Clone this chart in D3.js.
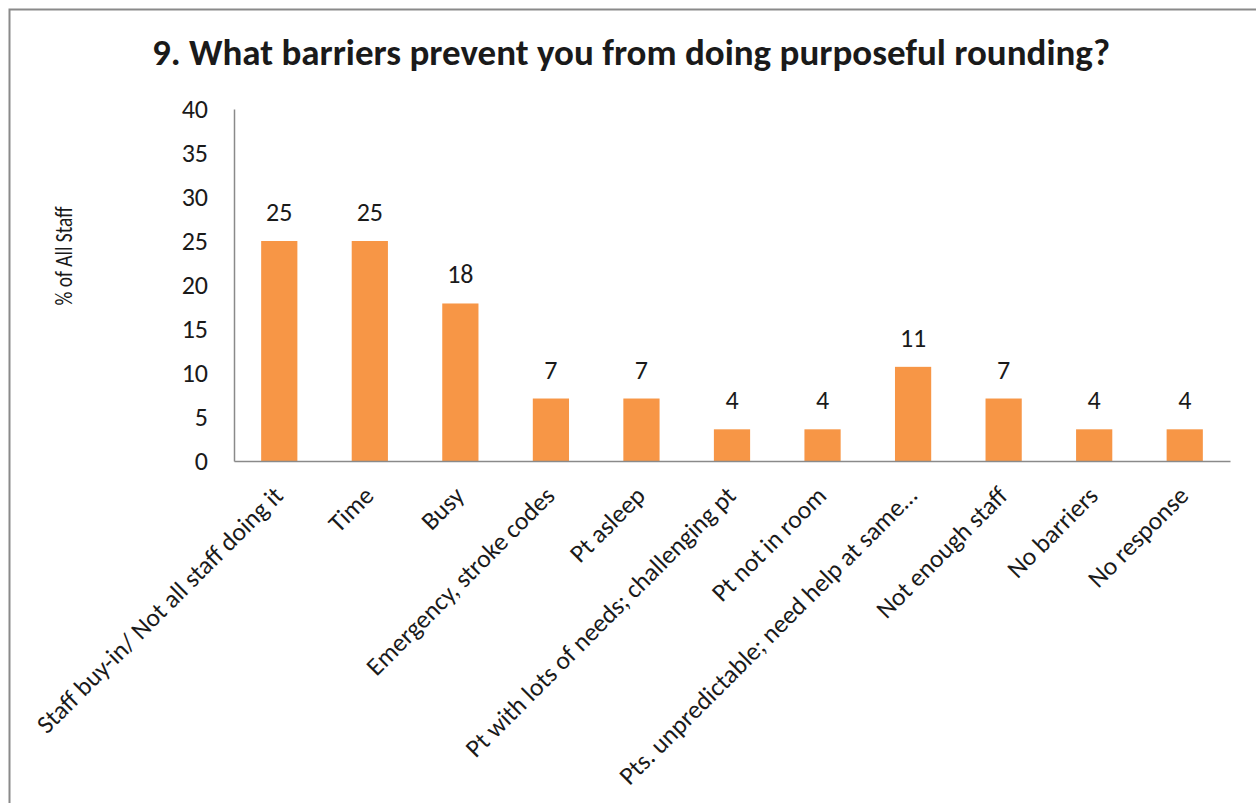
<!DOCTYPE html>
<html>
<head>
<meta charset="utf-8">
<script src="https://cdn.jsdelivr.net/npm/d3@7"></script>
<style>
    body { margin: 0; background: #ffffff; }
    text { font-family: Carlito, Lato, "Open Sans", sans-serif; fill: #1a1a1a; }
    .title { font-weight: bold; font-size: 37px; }
    .tick text, .valueLabel { font-size: 26px; }
    .xLabels .tick text { font-size: 25.5px; }
    .label { font-size: 24px; }
</style>
</head>
<body>
<svg id="barriers_graph"></svg>
<script>
// Data (% of all staff, n = 28)
const categories = [
    "Staff buy-in/ Not all staff doing it",
    "Time",
    "Busy",
    "Emergency, stroke codes",
    "Pt asleep",
    "Pt with lots of needs; challenging pt",
    "Pt not in room",
    "Pts. unpredictable; need help at same\u2026",
    "Not enough staff",
    "No barriers",
    "No response"
]
const values = [25, 25, 17.9, 7.1, 7.1, 3.6, 3.6, 10.7, 7.1, 3.6, 3.6]
const yTicks = [0, 5, 10, 15, 20, 25, 30, 35, 40]

const title = "9. What barriers prevent you from doing purposeful rounding?"
const titleY = "% of All Staff"

function createGraph() {

    var width = 1256
    var height = 803

    var svg = d3.select("#barriers_graph")
        .attr("width", width)
        .attr("height", height)

    // chart frame (runs off the right and bottom of the picture)
    svg.append("rect")
        .attr("x", 9.5)
        .attr("y", 9.5)
        .attr("width", width + 20)
        .attr("height", height + 20)
        .attr("fill", "#ffffff")
        .attr("stroke", "#8a8a8a")
        .attr("stroke-width", 2)

    const data = categories.map(function(c, i) { return { name: c, value: values[i] } })

    // X scale
    const xScale = d3.scaleBand()
        .domain(categories)
        .range([234, 1230])
        .paddingInner(0.6)
        .paddingOuter(0.3)

    // Y scale
    const yScale = d3.scaleLinear()
        .domain([0, 40])
        .range([461, 109])

    // Bars
    svg.append("g")
        .selectAll("rect")
        .data(data)
        .join("rect")
        .attr("x", function(d) { return xScale(d.name) })
        .attr("y", function(d) { return yScale(d.value) })
        .attr("width", xScale.bandwidth())
        .attr("height", function(d) { return yScale(0) - yScale(d.value) })
        .attr("fill", "#f79646")

    // Value labels
    svg.append("g")
        .selectAll("text")
        .data(data)
        .join("text")
        .attr("class", "valueLabel")
        .attr("x", function(d) { return xScale(d.name) + xScale.bandwidth() / 2 })
        .attr("y", function(d) { return yScale(d.value) - 20 })
        .attr("text-anchor", "middle")
        .text(function(d) { return d3.format(".0f")(d.value) })

    // Y axis
    var yAxis = svg.append("g")
        .attr("transform", "translate(234,0)")
        .call(d3.axisLeft(yScale).tickValues(yTicks).tickSize(0).tickPadding(26))
    yAxis.select(".domain").attr("stroke", "#8a8a8a").attr("stroke-width", 1.5)
    yAxis.selectAll(".tick text").attr("fill", "#1a1a1a").style("font-family", null)

    // X axis
    var xAxis = svg.append("g")
        .attr("class", "xLabels")
        .attr("transform", "translate(0,461)")
        .call(d3.axisBottom(xScale).tickSize(0))
    xAxis.select(".domain").attr("stroke", "#8a8a8a").attr("stroke-width", 1.5)
    xAxis.selectAll(".tick text")
        .attr("fill", "#1a1a1a")
        .style("font-family", null)
        .attr("text-anchor", "end")
        .attr("x", 0)
        .attr("y", 0)
        .attr("dy", "0.35em")
        .attr("transform", "translate(-1,30) rotate(-45)")

    loadTitles(svg)
}

function loadTitles(svg) {
    // Title
    svg.append("text")
        .attr("class", "title")
        .attr("x", 631)
        .attr("y", 65)
        .attr("text-anchor", "middle")
        .text(title)

    // Title Y
    svg.append("text")
        .attr("class", "label")
        .attr("transform", "translate(72,256) rotate(-90)")
        .attr("text-anchor", "middle")
        .attr("textLength", 99)
        .attr("lengthAdjust", "spacingAndGlyphs")
        .text(titleY)
}

createGraph()
</script>
</body>
</html>
